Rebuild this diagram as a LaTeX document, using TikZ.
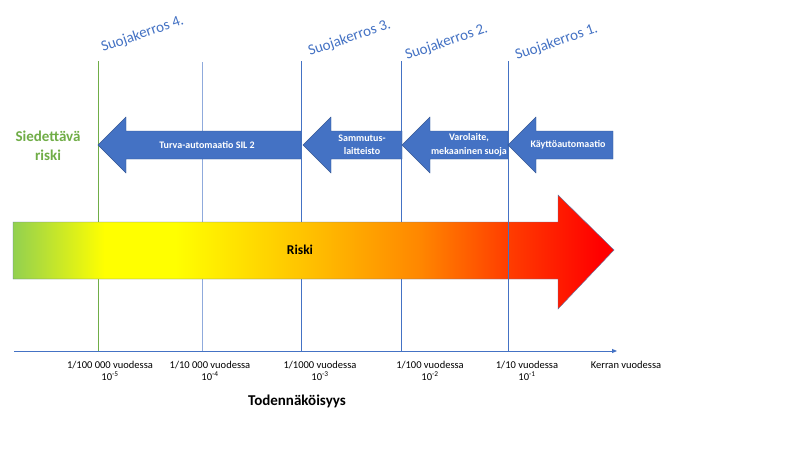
\documentclass[tikz,border=0pt]{standalone}
\usepackage{fontspec}
\setmainfont{Carlito}
\usetikzlibrary{arrows.meta}

\definecolor{layerblue}{RGB}{68,114,196}
\definecolor{paleblue}{RGB}{143,170,220}
\definecolor{okgreen}{RGB}{112,173,71}
\definecolor{riskgreen}{RGB}{146,208,80}

\pgfdeclarehorizontalshading{riskshade}{100bp}{
  color(0bp)=(riskgreen); color(25bp)=(riskgreen);
  color(32.6bp)=(yellow); color(38.5bp)=(yellow);
  color(49.7bp)=(rgb,255:red,255;green,192;blue,0);
  color(58.8bp)=(rgb,255:red,255;green,135;blue,0);
  color(66.3bp)=(rgb,255:red,255;green,60;blue,0);
  color(73.8bp)=(red); color(100bp)=(red)}

\begin{document}
\begin{tikzpicture}[x=1pt,y=-1pt]
  \tikzset{
    guide/.style={layerblue,line width=0.6pt},
    layer/.style={layerblue,font=\fontsize{15}{15}\selectfont,rotate=19,anchor=base west,inner sep=0pt},
    barrier/.style={fill=layerblue,draw=layerblue!75!black,line width=0.4pt},
    barriertext/.style={white,font=\bfseries\fontsize{10}{13.5}\selectfont,align=center,inner sep=0pt},
    ticklabel/.style={font=\fontsize{10.5}{12.5}\selectfont,align=center,inner sep=0pt}
  }
  \useasboundingbox[fill=white] (0,0) rectangle (800,450);

  % layer lines
  \draw[okgreen,line width=0.8pt] (98,61) -- (98,351);
  \draw[paleblue,line width=0.8pt] (202,62) -- (202,351);
  \foreach \x in {301,401}
    \draw[guide] (\x,61) -- (\x,351);

  % risk arrow
  \path[shading=riskshade,draw=layerblue!60!gray,line width=0.4pt]
    (13,222) -- (558,222) -- (558,195) -- (614,250) -- (558,309)
    -- (558,279) -- (13,279) -- cycle;
  \draw[guide] (508,61) -- (508,351);
  \node[font=\bfseries\fontsize{13.5}{13.5}\selectfont] (riski) at (300,250) {Riski};

  % barrier arrows
  \foreach \tip/\tail in {98/301,303/402,402/508,508/613}
    \path[barrier] (\tip,145) -- (\tip+28,117) -- (\tip+28,131) -- (\tail,131)
      -- (\tail,159) -- (\tip+28,159) -- (\tip+28,173) -- cycle;
  \node[barriertext] (sil) at (207,145) {Turva-automaatio SIL 2};
  \node[barriertext] (sammutus) at (362,145) {Sammutus-\\laitteisto};
  \node[barriertext] (varolaite) at (469,145) {Varolaite,\\mekaaninen suoja};
  \node[barriertext] (kaytto) at (568,145) {Käyttöautomaatio};

  % layer names
  \node[layer] (s4) at (103,52) {Suojakerros 4.};
  \node[layer] (s3) at (310,56) {Suojakerros 3.};
  \node[layer] (s2) at (407,60) {Suojakerros 2.};
  \node[layer] (s1) at (517,60) {Suojakerros 1.};

  \node[okgreen,font=\bfseries\fontsize{15}{19}\selectfont,align=center] (siedettava) at (48,146) {Siedettävä\\riski};

  % probability axis
  \coordinate (axstart) at (14,351);
  \coordinate (axend) at (617,351);
  \draw[layerblue,line width=0.9pt,-{Triangle[length=5pt,width=4pt]}] (axstart) -- (axend);

  \node[ticklabel] (p5) at (110,371) {1/100 000 vuodessa\\10\textsuperscript{-5}};
  \node[ticklabel] (p4) at (210,371) {1/10 000 vuodessa\\10\textsuperscript{-4}};
  \node[ticklabel] (p3) at (320,371) {1/1000 vuodessa\\10\textsuperscript{-3}};
  \node[ticklabel] (p2) at (430,371) {1/100 vuodessa\\10\textsuperscript{-2}};
  \node[ticklabel] (p1) at (527,371) {1/10 vuodessa\\10\textsuperscript{-1}};
  \node[ticklabel] (p0) at (626,365) {Kerran vuodessa};

  \node[font=\bfseries\fontsize{15}{15}\selectfont] (todennakoisyys) at (297,401) {Todennäköisyys};
\end{tikzpicture}
\end{document}
